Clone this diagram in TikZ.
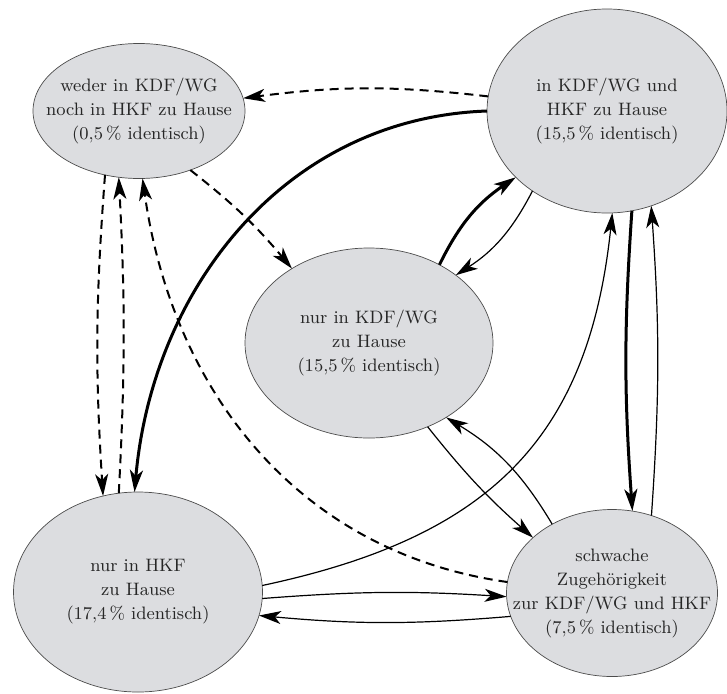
\documentclass[tikz,border=0pt]{standalone}
\usetikzlibrary{shapes.geometric,arrows.meta}
\begin{document}
\begin{tikzpicture}[x=0.5pt,y=0.5pt,
    zustand/.style={ellipse,draw=black!70,line width=0.35pt,fill=zgrau,inner sep=0pt,outer sep=0pt},
    txt/.style={align=center,font=\fontsize{9}{12}\selectfont,text=black!85},
    duenn/.style={-{Stealth[length=11pt,width=6.5pt,inset=3pt]},line width=0.6pt},
    dick/.style={duenn,line width=1.5pt},
    gestr/.style={duenn,line width=1pt,dash pattern=on 4.5pt off 3pt}]
    \definecolor{zgrau}{RGB}{220,221,224}
    \useasboundingbox (0,0) rectangle (727,693);

    \node[zustand,minimum width=106pt,minimum height=67.5pt,
        label={[txt]center:{weder in KDF/WG\\noch in HKF zu Hause\\(0,5\,\% identisch)}}] (keine) at (139,582) {};
    \node[zustand,minimum width=120pt,minimum height=102pt,
        label={[txt]center:{in KDF/WG und\\HKF zu Hause\\(15,5\,\% identisch)}}] (beide) at (607,582) {};
    \node[zustand,minimum width=124pt,minimum height=95pt,
        label={[txt]center:{nur in KDF/WG\\zu Hause\\(15,5\,\% identisch)}}] (nurkdf) at (369,350) {};
    \node[zustand,minimum width=124.5pt,minimum height=100pt,
        label={[txt]center:{nur in HKF\\zu Hause\\(17,4\,\% identisch)}}] (nurhkf) at (138,101) {};
    \node[zustand,minimum width=105.5pt,minimum height=83.5pt,
        label={[txt]center:{schwache\\Zugehörigkeit\\zur KDF/WG und HKF\\(7,5\,\% identisch)}}] (schwach) at (612,100) {};

    \draw[gestr] (beide.173) to[bend right=7] (keine.7);
    \draw[dick] (beide.180) to[out=182,in=85] (nurhkf.92);
    \draw[gestr] (keine.-49) to[bend left=6] (nurkdf.136);
    \draw[gestr] (keine.-118) to[bend right=4] (nurhkf.110);
    \draw[gestr] (nurhkf.101) to[bend right=3] (keine.-107);
    \draw[gestr] (schwach.174) to[out=172,in=-82] (keine.-87);
    \draw[dick] (nurkdf.48) to[bend left=15] (beide.-144);
    \draw[duenn] (beide.-133) to[bend left=15] (nurkdf.38);
    \draw[duenn] (nurkdf.-55) to[bend right=5] (schwach.145);
    \draw[duenn] (schwach.131) to[bend right=14] (nurkdf.-44);
    \draw[dick] (beide.-76) to[bend right=4] (schwach.76);
    \draw[duenn] (schwach.63) to[bend right=4] (beide.-65);
    \draw[duenn] (nurhkf.3) to[out=12,in=-96,looseness=1.15] (beide.-87);
    \draw[duenn] (nurhkf.-3) to[bend left=4] (schwach.-178);
    \draw[duenn] (schwach.-167) to[bend left=5] (nurhkf.-11);
\end{tikzpicture}
\end{document}
